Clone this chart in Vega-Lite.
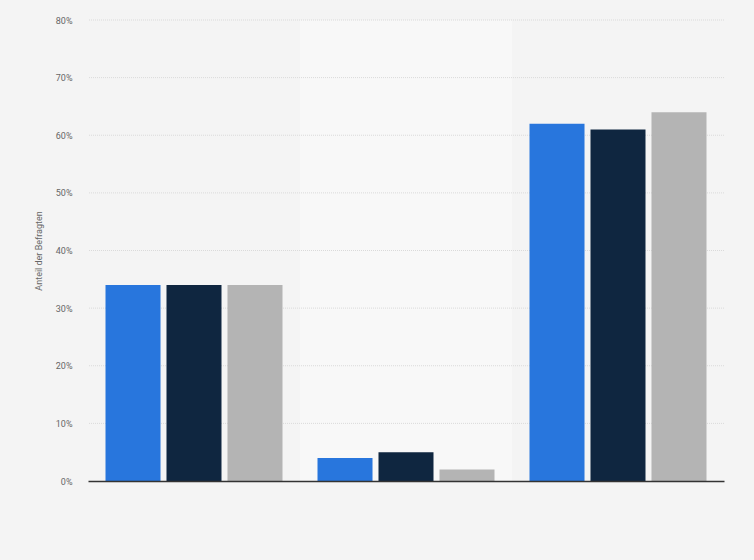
{
  "$schema": "https://vega.github.io/schema/vega-lite/v6.json",
  "width": 636,
  "height": 461,
  "autosize": "none",
  "padding": {"left": 88, "top": 20, "right": 30, "bottom": 79},
  "background": "#f4f4f4",
  "config": {
    "view": {"stroke": null},
    "font": "Roboto",
    "axis": {"labelFont": "Roboto", "titleFont": "Roboto"}
  },
  "datasets": {
    "umfrage": [
      {"gruppe": "A", "serie": "Serie 1", "anteil": 34},
      {"gruppe": "A", "serie": "Serie 2", "anteil": 34},
      {"gruppe": "A", "serie": "Serie 3", "anteil": 34},
      {"gruppe": "B", "serie": "Serie 1", "anteil": 4},
      {"gruppe": "B", "serie": "Serie 2", "anteil": 5},
      {"gruppe": "B", "serie": "Serie 3", "anteil": 2},
      {"gruppe": "C", "serie": "Serie 1", "anteil": 62},
      {"gruppe": "C", "serie": "Serie 2", "anteil": 61},
      {"gruppe": "C", "serie": "Serie 3", "anteil": 64}
    ],
    "raster": [
      {"wert": 10}, {"wert": 20}, {"wert": 30}, {"wert": 40},
      {"wert": 50}, {"wert": 60}, {"wert": 70}, {"wert": 80}
    ]
  },
  "layer": [
    {
      "data": {"name": "umfrage"},
      "transform": [{"filter": "datum.gruppe == 'B' && datum.serie == 'Serie 1'"}],
      "mark": {"type": "rect", "color": "#f8f8f8"},
      "encoding": {
        "x": {
          "field": "gruppe",
          "type": "nominal",
          "scale": {"domain": ["A", "B", "C"], "paddingInner": 0, "paddingOuter": 0},
          "axis": {
            "title": null,
            "labels": false,
            "ticks": false,
            "domainColor": "#333333",
            "domainWidth": 1.5,
            "zindex": 2
          }
        },
        "y": {"datum": 80, "type": "quantitative", "scale": {"domain": [0, 80]}},
        "y2": {"datum": 0}
      }
    },
    {
      "data": {"name": "raster"},
      "mark": {"type": "rule", "color": "#dadada", "strokeDash": [1, 1], "strokeWidth": 1},
      "encoding": {
        "y": {"field": "wert", "type": "quantitative"}
      }
    },
    {
      "data": {"name": "umfrage"},
      "mark": {"type": "bar"},
      "encoding": {
        "x": {
          "field": "gruppe",
          "type": "nominal",
          "axis": {
            "title": null,
            "labels": false,
            "ticks": false,
            "domainColor": "#333333",
            "domainWidth": 1.5,
            "zindex": 2
          }
        },
        "xOffset": {
          "field": "serie",
          "type": "nominal",
          "scale": {"paddingInner": 0.098, "paddingOuter": 0.287}
        },
        "y": {
          "field": "anteil",
          "type": "quantitative",
          "axis": {
            "title": "Anteil der Befragten",
            "titleFontSize": 9,
            "titleFontWeight": "normal",
            "titleColor": "#666666",
            "titlePadding": 12,
            "values": [0, 10, 20, 30, 40, 50, 60, 70, 80],
            "labelExpr": "datum.value + '%'",
            "labelFontSize": 9,
            "labelColor": "#666666",
            "labelPadding": 16,
            "ticks": false,
            "domain": false,
            "grid": false
          }
        },
        "color": {
          "field": "serie",
          "type": "nominal",
          "scale": {"range": ["#2876dd", "#0f2640", "#b4b4b4"]},
          "legend": null
        }
      }
    }
  ]
}
